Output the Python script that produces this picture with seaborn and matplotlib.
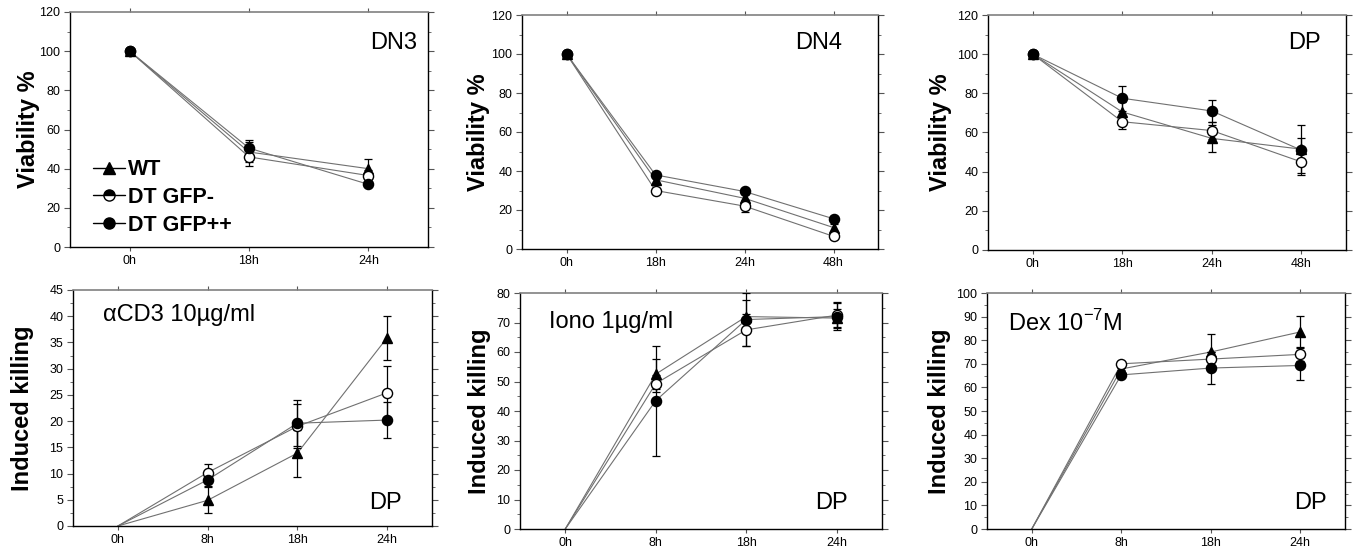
import numpy as np
import pandas as pd
import matplotlib
matplotlib.use("Agg")
import matplotlib.pyplot as plt
from matplotlib.ticker import MultipleLocator
from matplotlib.lines import Line2D
import seaborn as sns

sns.set_style("white")
plt.rcParams['font.family'] = ['Liberation Sans', 'DejaVu Sans']
plt.rcParams['mathtext.fontset'] = 'custom'
plt.rcParams['mathtext.rm'] = 'Liberation Sans'
plt.rcParams['text.color'] = 'black'
plt.rcParams['axes.labelcolor'] = 'black'
plt.rcParams['xtick.color'] = 'black'
plt.rcParams['ytick.color'] = 'black'

groups = ['WT', 'DT GFP-', 'DT GFP++']

# top row: viability
dn3_times = ['0h', '18h', '24h']
dn3_wt = [100, 48.5, 40]
dn3_wt_err = [0.8, 5, 5]
dn3_neg = [100, 46, 36.5]
dn3_neg_err = [0.8, 4.5, 3]
dn3_pos = [100, 50.5, 32]
dn3_pos_err = [0.5, 4, 1]

dn4_times = ['0h', '18h', '24h', '48h']
dn4_wt = [100, 35.5, 26, 11]
dn4_wt_err = [0.5, 2, 2, 2]
dn4_neg = [100, 30, 22, 6.5]
dn4_neg_err = [0.5, 1.5, 3, 1.5]
dn4_pos = [100, 38, 29.5, 15.5]
dn4_pos_err = [0.5, 1.5, 1.5, 1.5]

dp_times = ['0h', '18h', '24h', '48h']
dp_wt = [100, 70.5, 57, 51.5]
dp_wt_err = [0.5, 5, 7, 5.5]
dp_neg = [100, 65.5, 61, 45]
dp_neg_err = [0.5, 3.5, 4.5, 5.5]
dp_pos = [100, 77.5, 71, 51]
dp_pos_err = [0.5, 6.5, 5.5, 12.8]

# bottom row: induced killing
kill_times = ['0h', '8h', '18h', '24h']
cd3_wt = [0, 4.9, 13.9, 35.9]
cd3_wt_err = [0, 2.5, 4.5, 4.2]
cd3_neg = [0, 10.2, 19, 25.4]
cd3_neg_err = [0, 1.6, 4.2, 5.1]
cd3_pos = [0, 8.8, 19.6, 20.2]
cd3_pos_err = [0, 1.2, 4.4, 3.5]

iono_wt = [0, 52.5, 72, 71.5]
iono_wt_err = [0, 5, 5.5, 3]
iono_neg = [0, 49.3, 67.5, 72.5]
iono_neg_err = [0, 3, 5.5, 4.3]
iono_pos = [0, 43.5, 71, 72]
iono_pos_err = [0, 18.7, 9, 4.5]

dex_wt = [0, 67.8, 75, 83.5]
dex_wt_err = [0, 0.5, 7.5, 6.6]
dex_neg = [0, 70, 72, 74]
dex_neg_err = [0, 0.5, 3, 3]
dex_pos = [0, 65.3, 68.2, 69.3]
dex_pos_err = [0, 0.8, 6.8, 6]

marker_style = {
    'WT': dict(marker='^', mfc='black', mec='black'),
    'DT GFP-': dict(marker='o', mfc='white', mec='black'),
    'DT GFP++': dict(marker='o', mfc='black', mec='black'),
}


def draw_panel(ax, times, series, errs, ymax, major, minor, ylabel, start=0):
    x = np.arange(len(times))
    rows = []
    for g, vals in zip(groups, series):
        for i, v in enumerate(vals):
            rows.append({'x': x[i], 'y': v, 'group': g})
    df = pd.DataFrame(rows)
    sns.lineplot(data=df, x='x', y='y', hue='group', palette=['#707070'] * 3,
                 linewidth=0.8, legend=False, ax=ax, zorder=2)
    for g, vals, e in zip(groups, series, errs):
        ax.errorbar(x[start:], vals[start:], yerr=e[start:], fmt='none', ecolor='black',
                    elinewidth=0.9, capsize=3, capthick=0.9, zorder=3)
        ax.plot(x[start:], vals[start:], linestyle='none', markersize=7.3,
                markeredgewidth=1.0, zorder=4, **marker_style[g])
    ax.set_xlim(-0.5, len(times) - 0.5)
    ax.set_ylim(0, ymax)
    ax.set_xticks(x)
    ax.set_xticklabels(times)
    ax.yaxis.set_major_locator(MultipleLocator(major))
    ax.yaxis.set_minor_locator(MultipleLocator(minor))
    ax.set_xlabel('')
    ax.set_ylabel(ylabel, fontsize=17, fontweight='bold')
    ax.tick_params(axis='both', which='major', labelsize=9, length=4,
                   direction='out', color='#555555', pad=3)
    ax.tick_params(axis='y', which='both', right=True, left=True)
    ax.tick_params(axis='y', which='minor', length=2.5, color='#555555')
    ax.tick_params(axis='x', which='major', bottom=True, top=True, length=3)
    for s in ['left', 'right', 'bottom']:
        ax.spines[s].set_color('black')
        ax.spines[s].set_linewidth(1.0)
    ax.spines['top'].set_color('#808080')
    ax.spines['top'].set_linewidth(1.2)


fig = plt.figure(figsize=(13.61, 5.51), dpi=100)
W, H = 1361, 551
boxes = [(70, 12, 428, 247), (522, 15, 878, 249), (988, 15, 1346, 250),
         (73, 290, 432, 526), (520, 293, 882, 529), (987, 293, 1345, 529)]
axes = [fig.add_axes([l / W, 1 - b / H, (r - l) / W, (b - t) / H]) for l, t, r, b in boxes]

draw_panel(axes[0], dn3_times, [dn3_wt, dn3_neg, dn3_pos],
           [dn3_wt_err, dn3_neg_err, dn3_pos_err], 120, 20, 10, 'Viability %')
draw_panel(axes[1], dn4_times, [dn4_wt, dn4_neg, dn4_pos],
           [dn4_wt_err, dn4_neg_err, dn4_pos_err], 120, 20, 10, 'Viability %')
draw_panel(axes[2], dp_times, [dp_wt, dp_neg, dp_pos],
           [dp_wt_err, dp_neg_err, dp_pos_err], 120, 20, 10, 'Viability %')
draw_panel(axes[3], kill_times, [cd3_wt, cd3_neg, cd3_pos],
           [cd3_wt_err, cd3_neg_err, cd3_pos_err], 45, 5, 2.5, 'Induced killing', start=1)
draw_panel(axes[4], kill_times, [iono_wt, iono_neg, iono_pos],
           [iono_wt_err, iono_neg_err, iono_pos_err], 80, 10, 5, 'Induced killing', start=1)
draw_panel(axes[5], kill_times, [dex_wt, dex_neg, dex_pos],
           [dex_wt_err, dex_neg_err, dex_pos_err], 100, 10, 5, 'Induced killing', start=1)

label_x = [-0.085, -0.09, -0.1, -0.11, -0.08, -0.1]
for ax, lx in zip(axes, label_x):
    ax.yaxis.set_label_coords(lx, 0.5)

axes[0].text(0.97, 0.87, 'DN3', transform=axes[0].transAxes, fontsize=17, ha='right', va='center')
axes[1].text(0.90, 0.88, 'DN4', transform=axes[1].transAxes, fontsize=17, ha='right', va='center')
axes[2].text(0.93, 0.88, 'DP', transform=axes[2].transAxes, fontsize=17, ha='right', va='center')
axes[3].text(0.084, 0.894, 'αCD3 10µg/ml', transform=axes[3].transAxes, fontsize=17, ha='left', va='center')
axes[4].text(0.08, 0.877, 'Iono 1µg/ml', transform=axes[4].transAxes, fontsize=17, ha='left', va='center')
axes[5].text(0.06, 0.873, 'Dex 10$^{-7}$M', transform=axes[5].transAxes, fontsize=17, ha='left', va='center')
axes[3].text(0.916, 0.097, 'DP', transform=axes[3].transAxes, fontsize=17, ha='right', va='center')
axes[4].text(0.906, 0.11, 'DP', transform=axes[4].transAxes, fontsize=17, ha='right', va='center')
axes[5].text(0.95, 0.11, 'DP', transform=axes[5].transAxes, fontsize=17, ha='right', va='center')

handles = [
    Line2D([], [], color='black', linewidth=1, marker='^', markersize=8, mfc='black', mec='black'),
    Line2D([], [], color='black', linewidth=1, marker='o', markersize=8, fillstyle='top',
           mfc='black', markerfacecoloralt='white', mec='black'),
    Line2D([], [], color='black', linewidth=1, marker='o', markersize=8, mfc='black', mec='black'),
]
axes[0].legend(handles, groups, loc='lower left', bbox_to_anchor=(0.01, -0.035), frameon=False,
               prop={'size': 15.5, 'weight': 'bold'}, handlelength=1.5, handletextpad=0.15,
               labelspacing=0.32)

fig.savefig('out.png', dpi=100)
